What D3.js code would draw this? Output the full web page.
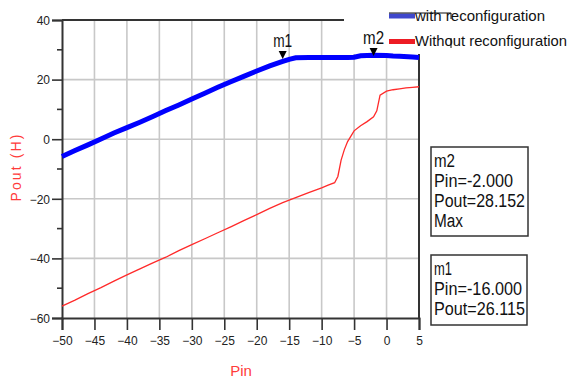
<!DOCTYPE html>
<html><head><meta charset="utf-8">
<script src="https://cdn.jsdelivr.net/npm/d3@7"></script>
<style>body{margin:0;background:#fff}svg{display:block}text{font-family:"Liberation Sans",Arial,sans-serif}</style>
</head><body><svg id="c" width="568" height="378"></svg>
<script>
const pinWith = [-50,-48,-46,-44,-42,-40,-38,-36,-34,-32,-30,-28,-26,-24,-22,-20,-18,-16,-15,-14,-12,-10,-8,-6,-5,-4,-2,0,1,2,4,5];
const poutWith = [-5.8,-3.8,-1.9,0.1,2.1,3.9,5.7,7.6,9.6,11.5,13.5,15.4,17.4,19.3,21.1,22.9,24.6,26.1,26.8,27.3,27.4,27.4,27.4,27.4,27.5,28.0,28.15,28.1,27.9,27.8,27.6,27.4];
const pinWithout = [-50,-48,-46,-44,-42,-40,-38,-36,-34,-32,-30,-28,-26,-24,-22,-20,-18,-16,-14,-12,-10,-9,-8,-7.5,-7,-6.5,-6,-5,-4,-3,-2,-1.5,-1,0,1,2,3,4,5];
const poutWithout = [-56,-54,-51.8,-49.8,-47.6,-45.5,-43.5,-41.5,-39.6,-37.4,-35.4,-33.4,-31.4,-29.4,-27.3,-25.3,-23.2,-21.3,-19.6,-17.9,-16.3,-15.4,-14.6,-12.5,-7,-3.5,-0.8,2.8,4.5,5.9,7.5,9.5,14.8,16.1,16.6,16.9,17.2,17.4,17.6];
const xTicks = [-50,-45,-40,-35,-30,-25,-20,-15,-10,-5,0,5];
const yTicks = [-60,-40,-20,0,20,40];
const yMinor = [-50,-30,-10,10,30];
const seriesNames = ["with reconfiguration","Without reconfiguration"];
const markers = [{name:"m1", pin:-16, pout:26.115, lines:["m1","Pin=-16.000","Pout=26.115"]},
                 {name:"m2", pin:-2, pout:28.152, lines:["m2","Pin=-2.000","Pout=28.152","Max"]}];

const svg = d3.select("#c");
const x = d3.scaleLinear().domain([-50,5]).range([62,419]);
const y = d3.scaleLinear().domain([-60,40]).range([318,20]);

// grid
svg.append("g").selectAll("line").data(xTicks.slice(1,-1)).join("line")
  .attr("x1",d=>x(d)).attr("x2",d=>x(d)).attr("y1",y(40)).attr("y2",y(-60))
  .attr("stroke","#c8c8c8").attr("stroke-width",1.6);
svg.append("g").selectAll("line").data([-40,-20,0,20]).join("line")
  .attr("x1",x(-50)).attr("x2",x(5)).attr("y1",d=>y(d)).attr("y2",d=>y(d))
  .attr("stroke","#c8c8c8").attr("stroke-width",1.6);

// axes
const ax = svg.append("g").attr("transform",`translate(0,${y(-60)})`)
  .call(d3.axisBottom(x).tickValues(xTicks).tickSize(12).tickPadding(4).tickFormat(d3.format("d")));
const ay = svg.append("g").attr("transform",`translate(${x(-50)},0)`)
  .call(d3.axisLeft(y).tickValues(yTicks).tickSize(10).tickPadding(2).tickFormat(d3.format("d")));
[ax,ay].forEach(g=>{
  g.select(".domain").attr("stroke","#333").attr("stroke-width",2);
  g.selectAll(".tick line").attr("stroke","#333").attr("stroke-width",1.6);
  g.selectAll(".tick text").attr("fill","#222").attr("font-size",12);
});
ax.selectAll(".tick text").attr("dy","0.9em");
ay.selectAll(".tick text").attr("dy","0.35em");
svg.append("g").selectAll("line").data(yMinor).join("line")
  .attr("x1",x(-50)-5).attr("x2",x(-50)).attr("y1",d=>y(d)).attr("y2",d=>y(d))
  .attr("stroke","#333").attr("stroke-width",1.6);
// frame top and right
svg.append("line").attr("x1",x(-50)).attr("x2",x(5)).attr("y1",y(40)).attr("y2",y(40)).attr("stroke","#333").attr("stroke-width",2);
svg.append("line").attr("x1",x(5)).attr("x2",x(5)).attr("y1",y(40)).attr("y2",y(-60)).attr("stroke","#333").attr("stroke-width",2);

// legend background covering plot corner
svg.append("rect").attr("x",344).attr("y",0).attr("width",224).attr("height",54).attr("fill","#fff");

// lines
const line = d3.line().x(d=>x(d[0])).y(d=>y(d[1]));
svg.append("path").datum(pinWithout.map((p,i)=>[p,poutWithout[i]])).attr("d",line)
  .attr("fill","none").attr("stroke","#ff2a2a").attr("stroke-width",1.3);
svg.append("path").datum(pinWith.map((p,i)=>[p,poutWith[i]])).attr("d",line)
  .attr("fill","none").attr("stroke","#0000ff").attr("stroke-width",5);

// legend
const leg = [{c:"#3f48cc",y:16,ty:20.5,w:130},{c:"#ed1c24",y:41.5,ty:45.5,w:152}];
leg.forEach((l,i)=>{
  svg.append("line").attr("x1",389).attr("x2",415).attr("y1",l.y).attr("y2",l.y).attr("stroke",l.c).attr("stroke-width",5);
  svg.append("text").attr("x",415).attr("y",l.ty).attr("font-size",15).attr("fill","#111")
    .attr("textLength",l.w).attr("lengthAdjust","spacingAndGlyphs").text(seriesNames[i]);
});
svg.append("line").attr("x1",389).attr("x2",451).attr("y1",13).attr("y2",13).attr("stroke","#111").attr("stroke-width",1.2);
svg.append("line").attr("x1",451).attr("x2",451).attr("y1",13).attr("y2",19).attr("stroke","#111").attr("stroke-width",1);
svg.append("line").attr("x1",451).attr("x2",451).attr("y1",38).attr("y2",48).attr("stroke","#111").attr("stroke-width",1);

// markers
markers.forEach(m=>{
  const px = x(m.pin), py = y(m.pout);
  const ty = m.name==="m1" ? 59 : 56;
  svg.append("path").attr("d",`M${px-4},${ty-8}L${px+4},${ty-8}L${px},${ty}Z`).attr("fill","#000");
  svg.append("text").attr("x",px).attr("y",ty-12).attr("text-anchor","middle").attr("font-size",18)
    .attr("textLength",m.name==="m1"?19:21).attr("lengthAdjust","spacingAndGlyphs").attr("fill","#111").text(m.name);
});

// marker boxes
const boxes = [{m:markers[1],x:431,y:147,w:97,h:89,widths:[21,79,91,29]},
               {m:markers[0],x:431,y:255,w:96,h:70,widths:[18,88,91]}];
boxes.forEach(b=>{
  svg.append("rect").attr("x",b.x).attr("y",b.y).attr("width",b.w).attr("height",b.h)
    .attr("fill","#fff").attr("stroke","#333").attr("stroke-width",1.5);
  b.m.lines.forEach((t,i)=>{
    svg.append("text").attr("x",b.x+3).attr("y",b.y+20+i*20).attr("font-size",18).attr("fill","#111")
      .attr("textLength",b.widths[i]).attr("lengthAdjust","spacingAndGlyphs").text(t);
  });
});

// axis titles
svg.append("text").attr("transform","translate(21,168) rotate(-90)").attr("text-anchor","middle")
  .attr("font-size",14).attr("fill","#ff3b3b").attr("textLength",67).attr("lengthAdjust","spacing").text("Pout  (H)");
svg.append("text").attr("x",241).attr("y",376).attr("text-anchor","middle")
  .attr("font-size",15).attr("fill","#ff3b3b").text("Pin");
</script></body></html>
